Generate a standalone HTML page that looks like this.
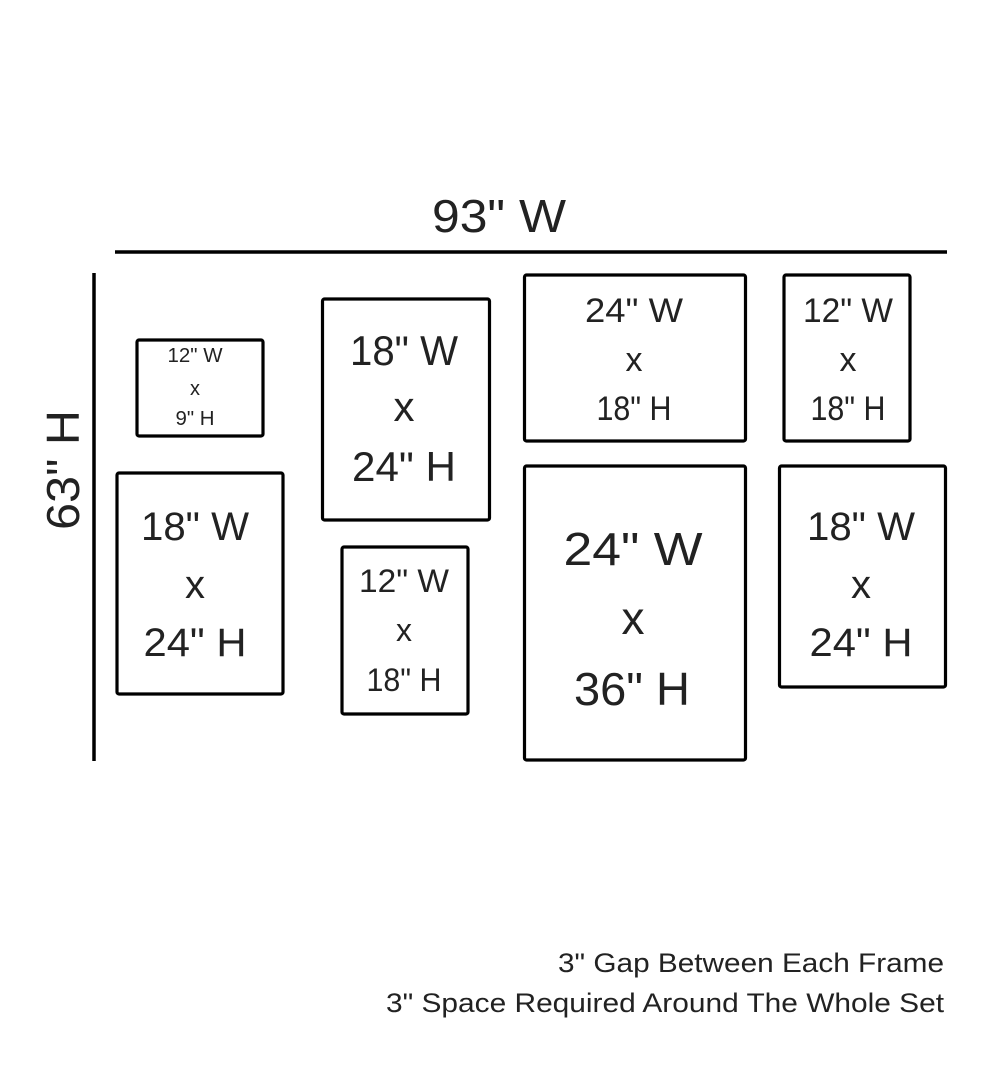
<!DOCTYPE html>
<html><head><meta charset="utf-8"><style>
html,body{margin:0;padding:0;background:#fff}
svg{display:block}
text{font-family:"Liberation Sans",sans-serif;fill:#222;text-anchor:middle}
text.st{text-anchor:start}
</style></head><body>
<svg width="1000" height="1081" viewBox="0 0 1000 1081" xmlns="http://www.w3.org/2000/svg">
<g stroke="#000" fill="none" stroke-width="3.5">
<line x1="115" y1="252" x2="947" y2="252"/>
<line x1="94" y1="273" x2="94" y2="761"/>
</g>
<g stroke="#000" fill="none" stroke-width="3.2" stroke-linejoin="round">
<rect x="137" y="340" width="126" height="96" rx="2"/>
<rect x="117" y="473" width="166" height="221" rx="2"/>
<rect x="322.5" y="299" width="167" height="221" rx="2"/>
<rect x="342" y="547" width="126" height="167" rx="2"/>
<rect x="524.5" y="275" width="221" height="166" rx="2"/>
<rect x="524.5" y="466" width="221" height="294" rx="2"/>
<rect x="784" y="275" width="126" height="166" rx="2"/>
<rect x="779.5" y="466" width="166" height="221" rx="2"/>
</g>
<text x="499" y="232" font-size="46" textLength="134" lengthAdjust="spacingAndGlyphs">93" W</text>
<text transform="translate(62,470) rotate(-90)" x="0" y="17" font-size="46" textLength="120" lengthAdjust="spacingAndGlyphs">63" H</text>

<g font-size="20">
<text x="195" y="362" textLength="55" lengthAdjust="spacingAndGlyphs">12" W</text>
<text x="195" y="395">x</text>
<text x="195" y="425" textLength="39" lengthAdjust="spacingAndGlyphs">9" H</text>
</g>
<g font-size="42">
<text x="404" y="365" textLength="108" lengthAdjust="spacingAndGlyphs">18" W</text>
<text x="404" y="421">x</text>
<text x="404" y="481" textLength="104" lengthAdjust="spacingAndGlyphs">24" H</text>
</g>
<g font-size="34">
<text x="634" y="322" textLength="98" lengthAdjust="spacingAndGlyphs">24" W</text>
<text x="634" y="371">x</text>
<text x="634" y="420" textLength="75" lengthAdjust="spacingAndGlyphs">18" H</text>
<text x="848" y="322" textLength="90" lengthAdjust="spacingAndGlyphs">12" W</text>
<text x="848" y="371">x</text>
<text x="848" y="420" textLength="75" lengthAdjust="spacingAndGlyphs">18" H</text>
</g>
<g font-size="40">
<text x="195" y="540" textLength="108" lengthAdjust="spacingAndGlyphs">18" W</text>
<text x="195" y="598">x</text>
<text x="195" y="656" textLength="103" lengthAdjust="spacingAndGlyphs">24" H</text>
<text x="861" y="540" textLength="108" lengthAdjust="spacingAndGlyphs">18" W</text>
<text x="861" y="598">x</text>
<text x="861" y="656" textLength="103" lengthAdjust="spacingAndGlyphs">24" H</text>
</g>
<g font-size="32">
<text x="404" y="592" textLength="90" lengthAdjust="spacingAndGlyphs">12" W</text>
<text x="404" y="641">x</text>
<text x="404" y="691" textLength="75" lengthAdjust="spacingAndGlyphs">18" H</text>
</g>
<g font-size="46">
<text x="633" y="565" textLength="139" lengthAdjust="spacingAndGlyphs">24" W</text>
<text x="633" y="634">x</text>
<text x="632" y="705" textLength="116" lengthAdjust="spacingAndGlyphs">36" H</text>
</g>
<g font-size="27">
<text class="st" x="558" y="972" textLength="386" lengthAdjust="spacingAndGlyphs">3" Gap Between Each Frame</text>
<text class="st" x="386" y="1012" textLength="558" lengthAdjust="spacingAndGlyphs">3" Space Required Around The Whole Set</text>
</g>
</svg>
</body></html>
